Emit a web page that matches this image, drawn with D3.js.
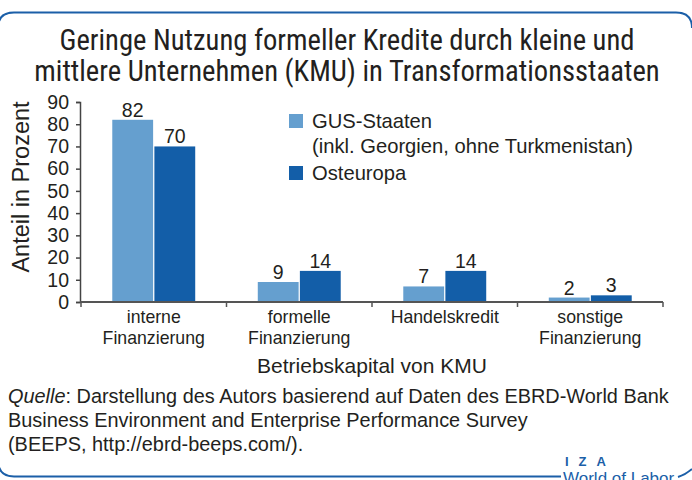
<!DOCTYPE html>
<html>
<head>
<meta charset="utf-8">
<script src="https://cdn.jsdelivr.net/npm/d3@7"></script>
<style>
  body { margin: 0; background: #fff; }
  text { fill: #231f20; }
</style>
</head>
<body>
<script>
var categories = [["interne", "Finanzierung"], ["formelle", "Finanzierung"], ["Handelskredit"], ["sonstige", "Finanzierung"]];
var seriesNames = ["GUS-Staaten", "Osteuropa"];
var gus = [82, 9, 7, 2];
var osteuropa = [70, 14, 14, 3];
var yTicks = [0, 10, 20, 30, 40, 50, 60, 70, 80, 90];
var colors = ["#659fcf", "#135ea8"];

var width = 692;
var height = 480;
var titleFont = "'Liberation Sans Narrow', 'Roboto Condensed', sans-serif";
var font = "'Liberation Sans', Arial, sans-serif";
var blue = "#1b5fa8";

var svg = d3.select("body")
            .append("svg")
            .attr("width", width)
            .attr("height", height)
            .style("font-family", font);

// frame with rounded corners
svg.append("path")
   .attr("d", "M561,476.5 H14 Q-2,476.5 -2,460 V28 Q-2,12.5 14,12.5 H676 Q692,12.5 692,28")
   .attr("fill", "none")
   .attr("stroke", blue)
   .attr("stroke-width", 2);
svg.append("path")
   .attr("d", "M678,477 Q685,475 692,469")
   .attr("fill", "none")
   .attr("stroke", blue)
   .attr("stroke-width", 2);

// title
var title = ["Geringe Nutzung formeller Kredite durch kleine und",
             "mittlere Unternehmen (KMU) in Transformationsstaaten"];
svg.selectAll(".title")
   .data(title)
   .enter()
   .append("text")
   .attr("class", "title")
   .attr("x", 347)
   .attr("y", function(d, i) { return 50 + i * 31; })
   .attr("text-anchor", "middle")
   .style("font-family", titleFont)
   .style("font-size", "28.6px")
   .text(function(d) { return d; });

var x0 = d3.scaleBand()
           .domain(d3.range(categories.length))
           .range([81, 663]);

var x1 = d3.scaleBand()
           .domain(seriesNames)
           .range([x0.bandwidth() * 0.215, x0.bandwidth() * 0.785])
           .paddingInner(0.03);

var y = d3.scaleLinear()
          .domain([0, 90])
          .range([302, 102]);

// bars
var series = [gus, osteuropa];
var groups = svg.selectAll(".group")
                .data(categories)
                .enter()
                .append("g")
                .attr("transform", function(d, i) { return "translate(" + x0(i) + ",0)"; });

groups.selectAll("rect")
      .data(function(d, i) { return series.map(function(s, k) { return { name: seriesNames[k], value: s[i], k: k }; }); })
      .enter()
      .append("rect")
      .attr("x", function(d) { return x1(d.name); })
      .attr("y", function(d) { return y(d.value); })
      .attr("width", x1.bandwidth())
      .attr("height", function(d) { return y(0) - y(d.value); })
      .style("fill", function(d) { return colors[d.k]; });

groups.selectAll(".val")
      .data(function(d, i) { return series.map(function(s, k) { return { name: seriesNames[k], value: s[i] }; }); })
      .enter()
      .append("text")
      .attr("class", "val")
      .attr("x", function(d) { return x1(d.name) + x1.bandwidth() / 2; })
      .attr("y", function(d) { return y(d.value) - 3; })
      .attr("text-anchor", "middle")
      .style("font-size", "19.5px")
      .text(function(d) { return d.value; });

// y axis
var yAxis = svg.append("g")
               .attr("transform", "translate(80,0)")
               .call(d3.axisLeft(y).tickValues(yTicks).tickSize(4).tickPadding(7));
yAxis.selectAll("text").style("font-size", "19.5px").style("font-family", font).attr("fill", "#231f20");
yAxis.selectAll("line, path").attr("stroke", "#444").attr("stroke-width", 1.5);

// x axis
var xAxis = svg.append("g")
               .attr("transform", "translate(0,302)");
xAxis.append("line")
     .attr("x1", 80).attr("x2", 663)
     .attr("stroke", "#555").attr("stroke-width", 2);
xAxis.selectAll(".tick")
     .data(d3.range(categories.length + 1))
     .enter()
     .append("line")
     .attr("x1", function(d) { return d < categories.length ? x0(d) : x0.range()[1]; })
     .attr("x2", function(d) { return d < categories.length ? x0(d) : x0.range()[1]; })
     .attr("y1", 0).attr("y2", 5)
     .attr("stroke", "#555").attr("stroke-width", 1.5);

svg.selectAll(".cat")
   .data(categories)
   .enter()
   .append("text")
   .attr("class", "cat")
   .attr("x", function(d, i) { return x0(i) + x0.bandwidth() / 2; })
   .attr("y", 323)
   .attr("text-anchor", "middle")
   .style("font-size", "17.7px")
   .selectAll("tspan")
   .data(function(d) { return d; })
   .enter()
   .append("tspan")
   .attr("x", function() { var p = d3.select(this.parentNode); return p.attr("x"); })
   .attr("dy", function(d, i) { return i ? 21 : 0; })
   .text(function(d) { return d; });

svg.append("text")
   .attr("x", 372)
   .attr("y", 373)
   .attr("text-anchor", "middle")
   .style("font-size", "21px")
   .text("Betriebskapital von KMU");

svg.append("text")
   .attr("transform", "translate(29,187) rotate(-90)")
   .attr("text-anchor", "middle")
   .style("font-size", "23.5px")
   .text("Anteil in Prozent");

// legend
var legendLines = [
  { sw: 0, text: "GUS-Staaten", y: 128 },
  { sw: -1, text: "(inkl. Georgien, ohne Turkmenistan)", y: 153 },
  { sw: 1, text: "Osteuropa", y: 180 }
];
var legend = svg.append("g");
legend.selectAll("rect")
      .data(legendLines.filter(function(d) { return d.sw >= 0; }))
      .enter()
      .append("rect")
      .attr("x", 289)
      .attr("y", function(d) { return d.y - 14; })
      .attr("width", 14)
      .attr("height", 14)
      .style("fill", function(d) { return colors[d.sw]; });
legend.selectAll("text")
      .data(legendLines)
      .enter()
      .append("text")
      .attr("x", 312)
      .attr("y", function(d) { return d.y; })
      .style("font-size", "20.2px")
      .text(function(d) { return d.text; });

// source note
var note = svg.append("text")
              .attr("x", 8)
              .attr("y", 403)
              .style("font-size", "19.9px");
note.append("tspan").style("font-style", "italic").text("Quelle");
note.append("tspan").text(": Darstellung des Autors basierend auf Daten des EBRD-World Bank");
svg.append("text").attr("x", 8).attr("y", 427).style("font-size", "19.9px")
   .text("Business Environment and Enterprise Performance Survey");
svg.append("text").attr("x", 8).attr("y", 451).style("font-size", "19.9px")
   .text("(BEEPS, http://ebrd-beeps.com/).");

// logo
svg.append("text")
   .attr("x", 565)
   .attr("y", 466)
   .style("font-size", "13px")
   .style("font-weight", "bold")
   .style("letter-spacing", "10px")
   .style("fill", blue)
   .text("IZA");
svg.append("text")
   .attr("x", 563)
   .attr("y", 484)
   .style("font-size", "17px")
   .style("fill", blue)
   .text("World of Labor");
</script>
</body>
</html>
